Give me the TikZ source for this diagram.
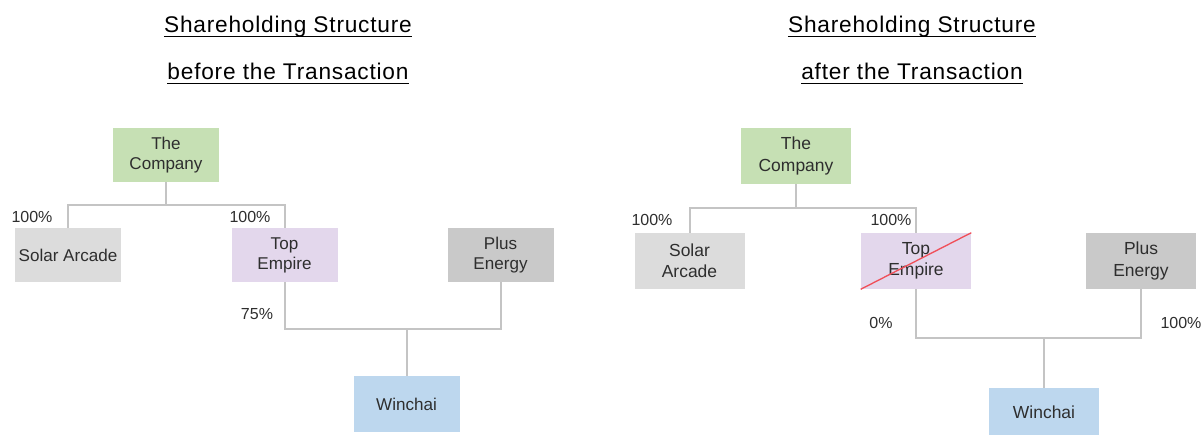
\documentclass[tikz,border=0pt]{standalone}
\usepackage{fontspec}
\setmainfont{Liberation Sans}
\definecolor{cgreen}{HTML}{C6E0B4}
\definecolor{cgrayl}{HTML}{DCDCDC}
\definecolor{cpurple}{HTML}{E3D7EC}
\definecolor{cgrayd}{HTML}{C9C9C9}
\definecolor{cblue}{HTML}{BDD7EE}
\definecolor{cline}{HTML}{C4C4C4}
\definecolor{ctext}{HTML}{2E2E2E}
\definecolor{cred}{HTML}{F0505A}
\tikzset{
  ent/.style={rectangle, inner sep=0pt, align=center, text=ctext,
    font=\fontsize{12.8pt}{15pt}\selectfont},
  entl/.style={ent, minimum width=106*0.75pt, minimum height=54*0.75pt},
  entr/.style={ent, minimum width=110*0.75pt, minimum height=56*0.75pt,
    font=\fontsize{13.1pt}{15.8pt}\selectfont},
  conn/.style={draw=cline, line width=1.5pt},
  pct/.style={inner sep=0pt, text=ctext, font=\fontsize{12pt}{14pt}\selectfont},
  ttl/.style={inner sep=0pt, anchor=base, text=black,
    font=\fontsize{17pt}{20pt}\selectfont\addfontfeature{LetterSpace=3.5}},
  uline/.style={draw=black, line width=0.9pt}
}
\begin{document}
\begin{tikzpicture}[x=0.75pt,y=-0.75pt]
\useasboundingbox (0,0) rectangle (1204,435);
% titles
\node[ttl] (tl1) at (288,33) {Shareholding Structure};
\node[ttl] (tl2) at (288,80) {before the Transaction};
\node[ttl] (tr1) at (912,33) {Shareholding Structure};
\node[ttl] (tr2) at (912,80) {after the Transaction};
\foreach \n in {tl1,tl2,tr1,tr2}{
  \draw[uline] ([yshift=-3.6*0.75pt]\n.base west) -- ([yshift=-3.6*0.75pt]\n.base east);
}
% left diagram
\node[entl, fill=cgreen] (c1) at (166,155) {The\\Company};
\node[entl, fill=cgrayl] (s1) at (68,255) {Solar Arcade};
\node[entl, fill=cpurple] (t1) at (284.5,255) {Top\\Empire};
\node[entl, fill=cgrayd] (p1) at (500.5,255) {Plus\\Energy};
\node[entl, fill=cblue, minimum height=56*0.75pt] (w1) at (406.5,404) {Winchai};
\draw[conn] (c1.south) -- ++(0,23) -| (s1.north);
\draw[conn] (c1.south) -- ++(0,23) -| (t1.north);
\draw[conn] (t1.south) -- ++(0,47) -| (p1.south);
\draw[conn] (w1.north) -- ++(0,-47);
\node[pct] (l1) at (32,217) {100\%};
\node[pct] (l2) at (250,217) {100\%};
\node[pct] (l3) at (257,314) {75\%};
% right diagram
\node[entr, fill=cgreen] (c2) at (796,156) {The\\Company};
\node[entr, fill=cgrayl] (s2) at (689.5,261) {Solar\\Arcade};
\node[entr, fill=cpurple] (t2) at (916,261) {Top\\Empire};
\node[entr, fill=cgrayd] (p2) at (1141,261) {Plus\\Energy};
\node[entr, fill=cblue, minimum height=48*0.75pt] (w2) at (1044,412) {Winchai};
\draw[cred, line width=1pt] (t2.south west) -- (t2.north east);
\draw[conn] (c2.south) -- ++(0,24) -| (s2.north);
\draw[conn] (c2.south) -- ++(0,24) -| (t2.north);
\draw[conn] (t2.south) -- ++(0,49) -| (p2.south);
\draw[conn] (w2.north) -- ++(0,-50);
\node[pct] (r1) at (652,220) {100\%};
\node[pct] (r2) at (891,220) {100\%};
\node[pct] (r3) at (881,323) {0\%};
\node[pct] (r4) at (1181,323) {100\%};
\end{tikzpicture}
\end{document}
